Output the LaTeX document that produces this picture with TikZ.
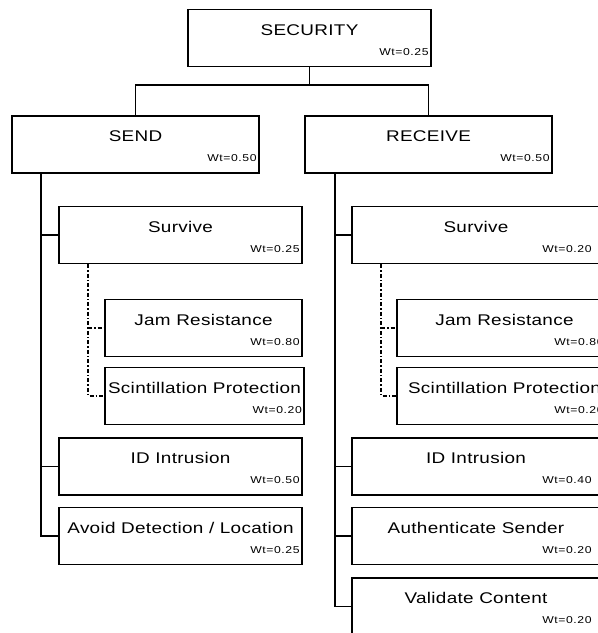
\documentclass[tikz,border=0pt]{standalone}
\usepackage{fontspec}
\newfontfamily\boxfont{Liberation Sans}[FakeStretch=1.22,LetterSpace=2]
\newfontfamily\wtfont{Liberation Sans}[FakeStretch=1.22,LetterSpace=6]
\tikzset{
  box/.style={draw, rectangle, line width=1.7pt, minimum height=57pt,
    text height=11pt, text depth=17pt,
    font=\boxfont\fontsize{15.5}{19}\selectfont},
  wt/.style={anchor=base east, inner sep=0pt,
    font=\wtfont\fontsize{10}{12}\selectfont},
  link/.style={line width=1.8pt},
  sublink/.style={line width=1.5pt, dash pattern=on 4pt off 2pt on 1.5pt off 2pt}
}
\begin{document}
\begin{tikzpicture}[x=1pt,y=-1pt]
  \useasboundingbox (0,0) rectangle (598,633);
  \clip (0,0) rectangle (598,633);
  % top level
  \node[box, minimum width=243pt] (sec) at (309.5,38) {SECURITY};
  \node[wt] (secw) at ([xshift=-3pt,yshift=12pt]sec.south east) {Wt=0.25};
  \node[box, minimum width=247pt] (send) at (135.5,144.5) {SEND};
  \node[wt] (sendw) at ([xshift=-3pt,yshift=12pt]send.south east) {Wt=0.50};
  \node[box, minimum width=247pt] (recv) at (428.5,144.5) {RECEIVE};
  \node[wt] (recvw) at ([xshift=-3pt,yshift=12pt]recv.south east) {Wt=0.50};
  % send side
  \node[box, minimum width=243pt] (lsv) at (180.5,235) {Survive};
  \node[wt] (lsvw) at ([xshift=-3pt,yshift=12pt]lsv.south east) {Wt=0.25};
  \node[box, minimum width=197pt] (ljam) at (203.5,328) {Jam Resistance};
  \node[wt] (ljamw) at ([xshift=-3pt,yshift=12pt]ljam.south east) {Wt=0.80};
  \node[box, minimum width=199pt] (lsci) at (204.5,396) {Scintillation Protection};
  \node[wt] (lsciw) at ([xshift=-3pt,yshift=12pt]lsci.south east) {Wt=0.20};
  \node[box, minimum width=243pt] (lid) at (180.5,466.5) {ID Intrusion};
  \node[wt] (lidw) at ([xshift=-3pt,yshift=12pt]lid.south east) {Wt=0.50};
  \node[box, minimum width=243pt] (lav) at (180.5,536) {Avoid Detection / Location};
  \node[wt] (lavw) at ([xshift=-3pt,yshift=12pt]lav.south east) {Wt=0.25};
  % receive side
  \node[box, minimum width=248pt] (rsv) at (476,235) {Survive};
  \node[wt] (rsvw) at ([xshift=-9pt,yshift=12pt]rsv.south east) {Wt=0.20};
  \node[box, minimum width=215pt] (rjam) at (504.5,328) {Jam Resistance};
  \node[wt] (rjamw) at ([xshift=-9pt,yshift=12pt]rjam.south east) {Wt=0.80};
  \node[box, minimum width=215pt] (rsci) at (504.5,396) {Scintillation Protection};
  \node[wt] (rsciw) at ([xshift=-9pt,yshift=12pt]rsci.south east) {Wt=0.20};
  \node[box, minimum width=248pt] (rid) at (476,466.5) {ID Intrusion};
  \node[wt] (ridw) at ([xshift=-9pt,yshift=12pt]rid.south east) {Wt=0.40};
  \node[box, minimum width=248pt] (rau) at (476,536) {Authenticate Sender};
  \node[wt] (rauw) at ([xshift=-9pt,yshift=12pt]rau.south east) {Wt=0.20};
  \node[box, minimum width=248pt] (rval) at (476,606.5) {Validate Content};
  \node[wt] (rvalw) at ([xshift=-9pt,yshift=12pt]rval.south east) {Wt=0.20};
  % connectors
  \draw[link] (sec.south) -- ++(0,18) coordinate (fork);
  \draw[link] (send.north) |- (fork) -| (recv.north);
  \coordinate (strunk) at ([xshift=30pt]send.south west);
  \draw[link] (strunk) |- (lav.west);
  \draw[link] (strunk |- lsv.west) -- (lsv.west);
  \draw[link] (strunk |- lid.west) -- (lid.west);
  \coordinate (rtrunk) at ([xshift=31pt]recv.south west);
  \draw[link] (rtrunk) |- (rval.west);
  \draw[link] (rtrunk |- rsv.west) -- (rsv.west);
  \draw[link] (rtrunk |- rid.west) -- (rid.west);
  \draw[link] (rtrunk |- rau.west) -- (rau.west);
  \coordinate (ldot) at ([xshift=30pt]lsv.south west);
  \draw[sublink] (ldot) |- (lsci.west);
  \draw[sublink] (ldot |- ljam.west) -- (ljam.west);
  \coordinate (rdot) at ([xshift=30pt]rsv.south west);
  \draw[sublink] (rdot) |- (rsci.west);
  \draw[sublink] (rdot |- rjam.west) -- (rjam.west);
\end{tikzpicture}
\end{document}
